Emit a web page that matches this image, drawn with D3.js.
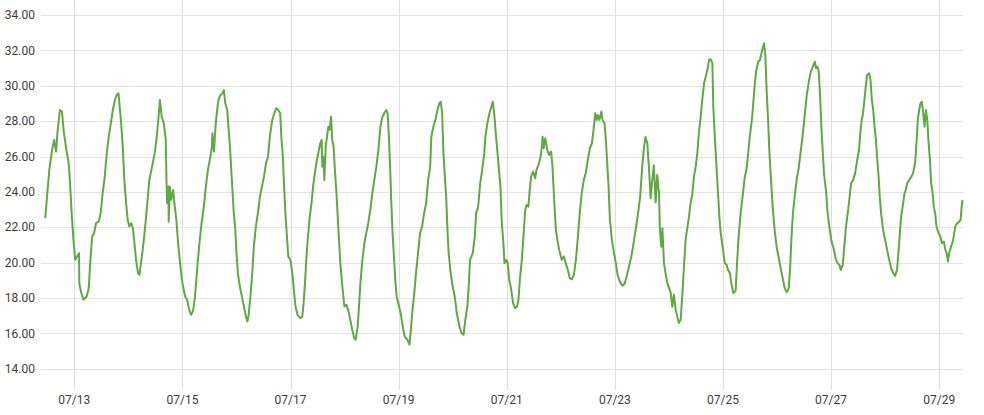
<!DOCTYPE html>
<html>
<head>
<meta charset="utf-8">
<script src="https://cdn.jsdelivr.net/npm/d3@7"></script>
<style>
  html, body { margin: 0; padding: 0; background: #fff; }
  svg { display: block; font-family: Roboto, "Noto Sans", sans-serif; }
</style>
</head>
<body>
<svg id="chart" width="984" height="415"></svg>
<script>
// start of the series (hours below are counted from here)
var startDate = Date.UTC(2023, 6, 12, 0, 0);

// hours since 07/12 00:00
var hours = [
  11.1, 12.0, 12.9, 14.0, 15.0, 15.9, 16.4, 17.6, 18.5, 19.4, 20.6, 21.5, 22.1, 22.8, 23.6, 24.4,
  25.3, 26.1, 26.2, 27.1, 28.0, 29.5, 30.4, 31.0, 31.9, 32.8, 33.6, 34.8, 35.7, 36.6, 37.5, 38.4,
  39.3, 40.2, 41.1, 42.0, 42.8, 43.6, 44.0, 44.8, 45.5, 46.2, 47.0, 47.7, 48.4, 49.2, 50.0, 50.7,
  51.4, 52.3, 52.9, 53.8, 54.7, 55.6, 56.4, 57.3, 58.5, 59.7, 60.6, 61.4, 62.0, 62.8, 63.7, 64.6,
  64.9, 65.2, 65.8, 65.9, 66.4, 67.0, 67.9, 68.4, 69.3, 70.2, 71.1, 72.0, 73.2, 74.1, 75.0, 75.9,
  76.8, 77.6, 78.5, 79.4, 80.3, 81.5, 82.4, 83.3, 84.4, 85.1, 85.3, 86.0, 86.5, 86.8, 87.4, 88.0,
  88.9, 89.8, 90.4, 91.0, 91.9, 92.4, 93.1, 93.6, 94.2, 94.8, 95.4, 96.0, 96.6, 97.5, 98.4, 99.3,
  100.2, 100.8, 101.3, 102.2, 103.1, 103.7, 104.6, 105.5, 106.4, 107.3, 108.2, 109.1, 110.0, 110.8,
  111.9, 112.8, 113.6, 114.5, 115.4, 116.0, 116.6, 117.2, 117.8, 118.4, 119.0, 119.9, 120.4, 121.1,
  121.6, 122.2, 123.1, 124.3, 125.2, 125.8, 126.4, 127.0, 127.6, 128.4, 129.3, 130.0, 130.8, 131.7,
  132.6, 133.2, 133.8, 134.1, 134.7, 135.0, 135.6, 136.2, 136.8, 137.3, 138.0, 138.5, 139.1, 139.7,
  140.3, 141.2, 142.1, 143.0, 143.9, 144.8, 145.6, 146.5, 147.4, 148.3, 148.9, 149.8, 150.4, 151.0,
  151.9, 152.8, 153.6, 154.5, 155.4, 156.3, 157.2, 158.1, 159.0, 159.9, 160.8, 161.6, 162.5, 163.1,
  163.6, 164.2, 164.8, 165.3, 166.0, 166.5, 167.1, 168.0, 168.9, 169.8, 170.7, 171.9, 172.8, 173.3,
  174.0, 174.8, 175.7, 176.6, 177.5, 178.4, 179.3, 180.2, 181.1, 182.0, 182.5, 183.4, 184.3, 185.2,
  186.1, 186.7, 187.3, 187.9, 188.4, 189.1, 189.6, 190.2, 191.1, 192.0, 192.9, 193.8, 195.0, 195.9,
  196.8, 197.6, 198.5, 199.1, 199.7, 200.9, 201.8, 202.4, 203.3, 204.2, 205.1, 206.0, 206.5, 207.4,
  208.3, 209.2, 209.8, 210.4, 211.0, 211.9, 212.8, 213.2, 213.8, 214.4, 215.0, 215.9, 216.4, 217.1,
  218.0, 218.8, 219.7, 220.6, 221.2, 221.8, 222.7, 223.6, 224.2, 224.8, 225.6, 226.2, 226.8, 227.7,
  228.6, 229.2, 230.1, 231.0, 231.6, 231.9, 232.4, 233.1, 234.0, 234.8, 235.7, 236.3, 236.9, 237.8,
  238.7, 239.6, 240.4, 241.3, 242.2, 243.1, 244.0, 244.9, 245.8, 246.7, 247.6, 248.4, 249.3, 250.2,
  251.1, 252.0, 252.9, 253.8, 254.7, 255.3, 255.9, 256.4, 257.1, 258.0, 258.5, 259.4, 260.0, 260.6,
  261.2, 261.8, 262.7, 263.6, 264.4, 265.2, 266.3, 267.4, 268.3, 269.2, 270.3, 271.4, 272.4, 273.4,
  274.3, 275.2, 276.2, 276.9, 277.6, 278.4, 279.1, 279.9, 280.6, 281.3, 282.1, 282.8, 283.6, 284.0,
  284.6, 285.1, 285.8, 286.5, 287.3, 288.8, 289.5, 290.2, 291.0, 292.4, 293.2, 294.0, 294.7, 295.4,
  296.9, 297.6, 298.4, 299.1, 299.9, 300.6, 301.3, 302.1, 302.8, 303.6, 304.3, 305.1, 305.8, 306.5,
  307.3, 307.7, 308.3, 309.2, 309.8, 310.4, 311.0, 312.2, 312.8, 313.6, 314.2, 315.1, 315.7, 316.6,
  317.6, 318.2, 319.0, 319.9, 320.8, 321.6, 322.5, 323.1, 324.0, 324.9, 325.5, 326.1, 326.7, 327.6,
  328.4, 329.1, 329.6, 330.2, 330.8, 331.4, 332.0, 332.6, 333.2, 334.1, 335.0, 335.9, 336.8, 337.6,
  338.5, 339.4, 340.3, 341.2, 341.8, 342.4, 343.0, 343.9, 344.8, 345.6, 346.5, 347.4, 348.3, 349.2,
  350.1, 351.0, 351.9, 352.8, 353.3, 354.0, 354.5, 355.1, 355.7, 356.3, 356.9, 357.8, 358.4, 359.3,
  360.2, 361.1, 362.0, 362.8, 363.7, 364.3, 365.2, 365.8, 366.7, 367.6, 368.4, 368.9, 369.8, 370.7,
  371.6, 372.4, 373.1, 373.6, 374.2, 374.8, 375.4, 376.0, 376.9, 377.5, 378.1, 378.7, 379.3, 379.9,
  380.4, 381.1, 381.6, 382.2, 383.1, 384.0, 384.9, 385.8, 386.7, 387.6, 388.4, 389.3, 390.0, 390.5,
  391.1, 392.0, 392.6, 393.2, 393.8, 394.7, 395.6, 396.4, 397.3, 398.0, 398.5, 399.1, 399.7, 400.3,
  400.9, 401.5, 402.1, 402.7, 403.3, 403.9, 404.4, 405.1, 405.6, 406.2, 406.8, 407.7, 408.6, 409.2,
  410.1, 410.7, 411.3, 411.9, 412.4, 413.3, 414.2, 415.1, 416.0, 416.9, 417.5, 418.1, 418.4
];

// temperature readings, one per entry in hours
var temps = [
  22.51, 23.93, 25.24, 26.28, 26.94, 26.28, 27.22, 28.63, 28.54, 27.32, 26.28, 25.62, 24.49, 22.80, 21.29, 20.16,
  20.35, 20.54, 18.84, 18.28, 17.90, 18.09, 18.56, 19.88, 21.47, 21.67, 22.23, 22.32, 22.80, 23.93, 24.86, 26.19,
  27.12, 27.88, 28.63, 29.20, 29.48, 29.58, 29.01, 27.88, 26.56, 24.68, 23.36, 22.42, 22.04, 22.23, 21.95, 21.10,
  20.16, 19.41, 19.31, 20.16, 21.10, 22.23, 23.36, 24.68, 25.43, 26.19, 27.12, 28.25, 29.20, 28.25, 27.88, 26.94,
  24.68, 23.36, 24.30, 22.32, 24.30, 23.55, 24.11, 23.36, 22.42, 20.91, 19.78, 18.84, 18.09, 17.90, 17.33, 17.05,
  17.33, 18.09, 19.59, 20.91, 22.04, 23.17, 24.30, 25.24, 25.99, 26.56, 27.32, 26.28, 27.32, 27.88, 28.63, 29.20,
  29.48, 29.58, 29.76, 29.01, 28.63, 27.69, 26.56, 25.43, 24.11, 22.80, 22.04, 20.54, 19.41, 18.65, 18.09, 17.52,
  16.95, 16.67, 16.95, 18.09, 19.59, 20.91, 22.04, 22.80, 23.73, 24.30, 24.86, 25.62, 25.99, 27.12,
  28.07, 28.45, 28.73, 28.63, 28.45, 26.94, 25.99, 24.11, 22.60, 21.47, 20.35, 20.16, 19.78, 19.03,
  18.28, 17.52, 17.05, 16.86, 16.95, 17.71, 18.84, 20.16, 21.29, 22.42, 23.36, 24.30, 25.06, 25.81,
  26.37, 26.75, 26.94, 25.43, 25.99, 24.68, 26.56, 27.12, 27.69, 27.50, 28.25, 26.94, 26.56, 25.24,
  24.11, 22.04, 19.97, 18.65, 17.52, 17.62, 17.33, 16.77, 16.20, 15.73, 15.64, 16.39, 17.52, 18.84,
  20.16, 21.10, 21.67, 22.23, 22.98, 23.93, 24.68, 25.43, 26.37, 27.69, 28.25, 28.45, 28.63, 28.45,
  27.32, 25.43, 23.17, 21.67, 20.16, 19.03, 18.09, 17.62, 17.15, 16.39, 15.82, 15.64, 15.36, 16.02,
  17.15, 18.09, 19.41, 20.54, 21.67, 22.04, 22.80, 23.36, 24.68, 25.43, 27.12, 27.69, 28.07, 28.63,
  29.01, 29.10, 28.45, 26.19, 25.06, 23.73, 22.04, 20.54, 19.41, 18.65, 18.09, 17.15, 16.39, 16.02,
  15.92, 16.77, 17.52, 18.65, 20.16, 20.54, 21.47, 22.80, 23.17, 24.49, 25.24, 26.19, 27.12, 27.88,
  28.45, 28.82, 29.10, 28.45, 27.50, 26.19, 24.86, 24.30, 22.23, 21.29, 19.97, 20.16, 19.97, 19.03,
  18.46, 17.71, 17.43, 17.52, 17.90, 19.03, 20.16, 21.85, 22.98, 23.26, 23.17, 24.11, 24.86, 25.15,
  24.77, 25.24, 25.53, 25.99, 26.56, 27.12, 26.47, 27.03, 26.37, 26.09, 26.28, 25.43, 23.93, 21.85,
  21.10, 20.54, 20.16, 20.35, 19.97, 19.59, 19.12, 19.06, 19.31, 20.16, 21.47, 22.80, 23.93, 24.68,
  25.06, 25.81, 26.47, 26.75, 27.69, 28.45, 28.07, 28.35, 28.07, 28.54, 28.07, 27.88, 26.94, 25.62,
  24.30, 22.42, 21.29, 20.54, 20.00, 19.30, 18.90, 18.70, 18.80, 19.20, 19.80, 20.40, 21.20, 22.00,
  22.80, 23.70, 25.50, 26.50, 27.10, 26.75, 25.40, 23.64, 24.70, 25.50, 23.40, 24.96, 23.90, 21.85,
  20.90, 21.95, 19.97, 19.40, 18.84, 18.28, 17.50, 18.20, 17.33, 16.58, 16.77, 18.28, 19.78, 21.30,
  22.60, 23.36, 23.90, 24.86, 25.43, 26.19, 27.32, 28.25, 29.20, 30.14, 30.50, 30.90, 31.46, 31.50,
  31.27, 28.82, 27.32, 25.24, 23.93, 22.60, 21.67, 20.54, 19.97, 19.88, 19.59, 19.41, 18.84, 18.28,
  18.40, 19.88, 21.57, 22.89, 23.83, 24.77, 25.34, 26.09, 27.22, 28.16, 29.10, 30.05, 30.80, 31.36,
  31.46, 31.84, 32.12, 32.40, 31.74, 29.67, 28.16, 26.28, 24.96, 23.08, 21.76, 20.82, 20.25, 19.69,
  19.12, 18.56, 18.33, 18.56, 19.69, 21.38, 22.70, 23.83, 24.77, 25.34, 26.28, 27.22, 28.35, 29.48,
  30.23, 30.80, 31.08, 31.36, 30.99, 31.08, 30.80, 29.48, 27.60, 26.28, 24.96, 24.02, 22.89, 21.95,
  21.19, 20.82, 20.25, 19.97, 19.88, 19.59, 19.88, 20.82, 22.14, 23.00, 23.93, 24.49, 24.68, 25.06,
  25.81, 26.37, 27.50, 28.07, 28.45, 29.20, 29.95, 30.61, 30.71, 30.33, 29.20, 28.63, 27.69, 26.94,
  25.99, 24.86, 23.73, 22.80, 21.85, 21.29, 20.72, 20.16, 19.69, 19.41, 19.25, 19.59, 20.72, 21.67,
  22.60, 23.36, 23.93, 24.11, 24.49, 24.68, 24.86, 25.06, 25.62, 26.94, 28.07, 28.63, 29.01, 29.10,
  28.45, 27.69, 28.63, 28.07, 26.75, 25.81, 24.49, 23.93, 23.17, 22.80, 22.04, 21.67, 21.47, 21.10,
  21.19, 20.72, 20.54, 20.07, 20.54, 20.91, 21.29, 22.04, 22.23, 22.32, 22.42, 23.36, 23.55
];

var yTicks = [14, 16, 18, 20, 22, 24, 26, 28, 30, 32, 34];
var xTickDays = [13, 15, 17, 19, 21, 23, 25, 27, 29];

var width = 984, height = 415;
var plot = { left: 41, right: 963, top: 0, bottom: 390 };
var padHours = 1.9;

var data = hours.map(function (h, i) {
  return { t: new Date(startDate + h * 3600e3), v: temps[i] };
});

var svg = d3.select("#chart");

var x = d3.scaleUtc()
  .domain([new Date(startDate + (hours[0] - padHours) * 3600e3),
           new Date(startDate + hours[hours.length - 1] * 3600e3 + 6e5)])
  .range([plot.left, plot.right]);

var y = d3.scaleLinear()
  .domain([12.8, 34.85])
  .range([plot.bottom, plot.top]);

var tickDates = xTickDays.map(function (d) { return new Date(Date.UTC(2023, 6, d)); });

// vertical grid
svg.append("g")
  .selectAll("line")
  .data(tickDates)
  .join("line")
  .attr("x1", function (d) { return Math.round(x(d)) + 0.5; })
  .attr("x2", function (d) { return Math.round(x(d)) + 0.5; })
  .attr("y1", plot.top)
  .attr("y2", plot.bottom)
  .attr("stroke", "#dedede")
  .attr("stroke-width", 1);

// horizontal grid
svg.append("g")
  .selectAll("line")
  .data(yTicks)
  .join("line")
  .attr("x1", plot.left)
  .attr("x2", plot.right)
  .attr("y1", function (d) { return Math.round(y(d)) + 0.5; })
  .attr("y2", function (d) { return Math.round(y(d)) + 0.5; })
  .attr("stroke", "#e3e3e3")
  .attr("stroke-width", 1);

// y labels
svg.append("g")
  .selectAll("text")
  .data(yTicks)
  .join("text")
  .attr("x", 35)
  .attr("y", function (d) { return y(d); })
  .attr("dy", "0.35em")
  .attr("text-anchor", "end")
  .attr("font-size", 12)
  .attr("fill", "#3c3c3c")
  .text(function (d) { return d3.format(".2f")(d); });

// x labels
var fmt = d3.utcFormat("%m/%d");
svg.append("g")
  .selectAll("text")
  .data(tickDates)
  .join("text")
  .attr("x", function (d) { return x(d); })
  .attr("y", 400)
  .attr("dy", "0.35em")
  .attr("text-anchor", "middle")
  .attr("font-size", 12)
  .attr("fill", "#3c3c3c")
  .text(function (d) { return fmt(d); });

// temperature line
var line = d3.line()
  .x(function (d) { return x(d.t); })
  .y(function (d) { return y(d.v); });

svg.append("path")
  .datum(data)
  .attr("d", line)
  .attr("fill", "none")
  .attr("stroke", "#5fa843")
  .attr("stroke-width", 2)
  .attr("stroke-linejoin", "round");
</script>
</body>
</html>
